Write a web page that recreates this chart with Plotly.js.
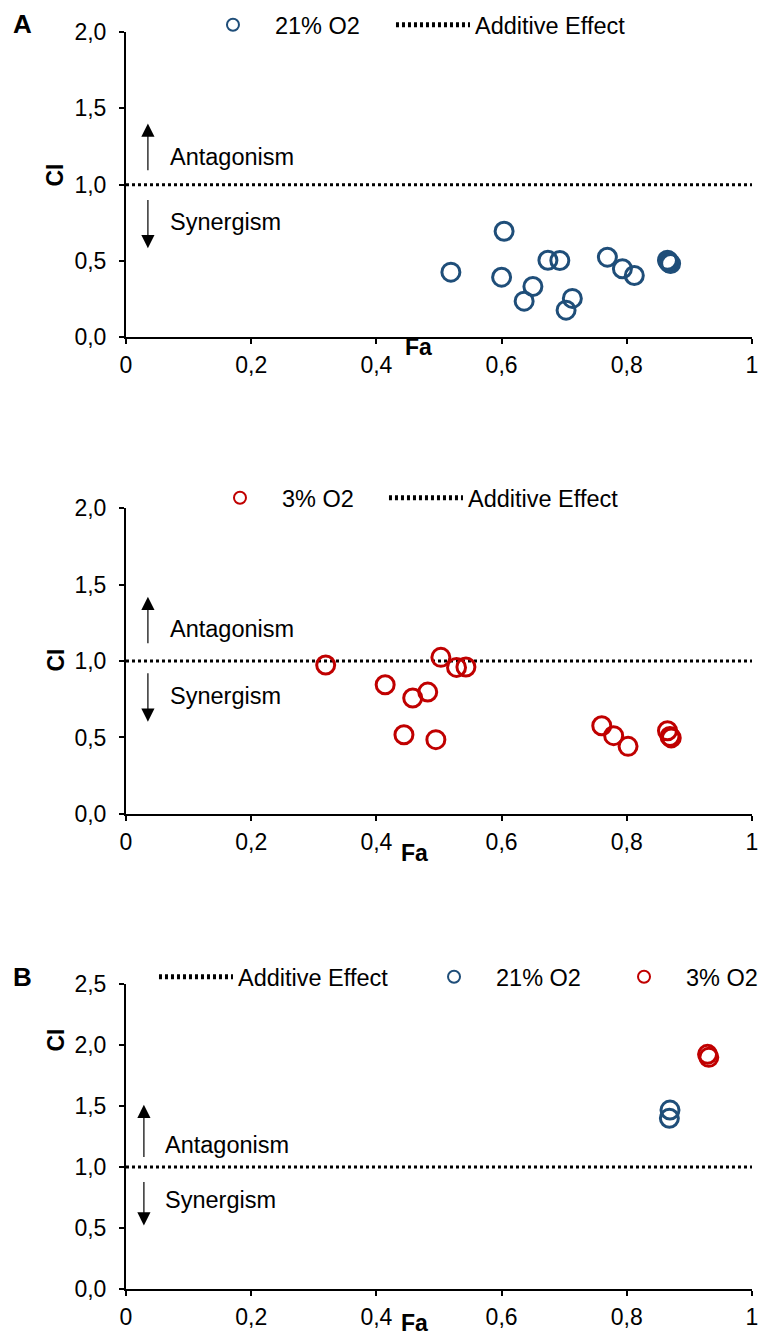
<!DOCTYPE html>
<html>
<head>
<meta charset="utf-8">
<script src="https://cdn.plot.ly/plotly-3.0.1.min.js"></script>
<style>html,body{margin:0;padding:0;background:#fff;}#chart{width:759px;height:1338px;}</style>
</head>
<body>
<div id="chart"></div>
<script>
// Panel A (top): 21% O2
const faA21 = [0.519, 0.604, 0.600, 0.650, 0.636, 0.674, 0.693, 0.713, 0.703, 0.769, 0.793, 0.812, 0.865, 0.868, 0.866, 0.870];
const ciA21 = [0.427, 0.695, 0.394, 0.333, 0.237, 0.505, 0.503, 0.255, 0.178, 0.525, 0.449, 0.405, 0.505, 0.488, 0.499, 0.483];
// Panel A (middle): 3% O2
const faA3 = [0.319, 0.503, 0.528, 0.543, 0.414, 0.458, 0.482, 0.444, 0.495, 0.760, 0.779, 0.802, 0.865, 0.869, 0.871];
const ciA3 = [0.974, 1.024, 0.958, 0.961, 0.845, 0.758, 0.797, 0.518, 0.486, 0.577, 0.512, 0.442, 0.544, 0.507, 0.497];
// Panel B
const faB21 = [0.869, 0.868];
const ciB21 = [1.467, 1.400];
const faB3 = [0.929, 0.931];
const ciB3 = [1.924, 1.899];
// Additive effect reference line
const addX = [0, 1];
const addY = [1, 1];
const xTicks = [0, 0.2, 0.4, 0.6, 0.8, 1];
const yTicksA = [0, 0.5, 1, 1.5, 2];
const yTicksB = [0, 0.5, 1, 1.5, 2, 2.5];

const BLUE = '#1F4E79';
const RED = '#C00000';
const FONT = 'Liberation Sans, Arial, sans-serif';
const FS = 23.5;
const TFS = 23;

function markerTrace(x, y, color, name, xa, ya, lg) {
  return {x: x, y: y, type: 'scatter', mode: 'markers', name: name,
    xaxis: xa, yaxis: ya, legend: lg, cliponaxis: false,
    marker: {symbol: 'circle-open', size: 18, color: color, line: {color: color, width: 3}}};
}
function lineTrace(xa, ya, lg) {
  return {x: addX, y: addY, type: 'scatter', mode: 'lines', name: 'Additive Effect',
    xaxis: xa, yaxis: ya, legend: lg,
    line: {color: '#000', width: 3, dash: '3px,3px'}};
}

const data = [
  lineTrace('x', 'y', 'legend2'),
  markerTrace(faA21, ciA21, BLUE, '21% O2', 'x', 'y', 'legend'),
  lineTrace('x2', 'y2', 'legend4'),
  markerTrace(faA3, ciA3, RED, '3% O2', 'x2', 'y2', 'legend3'),
  lineTrace('x3', 'y3', 'legend5'),
  markerTrace(faB21, ciB21, BLUE, '21% O2', 'x3', 'y3', 'legend6'),
  markerTrace(faB3, ciB3, RED, '3% O2', 'x3', 'y3', 'legend7')
];

function xAxis(anchor) {
  return {range: [0, 1], domain: [0, 1], anchor: anchor, tickvals: xTicks,
    ticks: 'outside', ticklen: 5, tickwidth: 2, tickcolor: '#000',
    showline: true, linewidth: 2, linecolor: '#000', showgrid: false, zeroline: false,
    ticklabeloverflow: 'allow', automargin: false,
    tickfont: {family: FONT, size: TFS, color: '#000'}, ticklabelstandoff: 1};
}
function yAxis(anchor, dom, top, ticks) {
  return {range: [0, top], domain: dom, anchor: anchor, tickvals: ticks, tickformat: '.1f',
    ticks: 'outside', ticklen: 5, tickwidth: 2, tickcolor: '#000',
    showline: true, linewidth: 2, linecolor: '#000', showgrid: false, zeroline: false,
    automargin: false,
    tickfont: {family: FONT, size: TFS, color: '#000'}, ticklabelstandoff: 8};
}
function legendObj(x, y) {
  return {orientation: 'h', x: x, y: y, xanchor: 'left', yanchor: 'middle',
    xref: 'paper', yref: 'paper', traceorder: 'normal', itemsizing: 'constant',
    itemwidth: 74, bgcolor: 'rgba(0,0,0,0)', borderwidth: 0,
    font: {family: FONT, size: FS, color: '#000'}};
}

const ann = [];
function txt(t, x, y, xr, yr, opts) {
  ann.push(Object.assign({text: t, x: x, y: y, xref: xr, yref: yr, showarrow: false,
    font: {family: FONT, size: FS, color: '#000'}}, opts || {}));
}
function arrow(x, yHead, yTail, xr, yr) {
  ann.push({text: '', x: x, y: yHead, ax: x, ay: yTail, xref: xr, yref: yr, axref: xr, ayref: yr,
    showarrow: true, arrowhead: 2, arrowsize: 2.2, arrowwidth: 1.2, arrowcolor: '#000'});
}
// Panel labels
const lbl = {family: FONT, size: 26, color: '#000'};
txt('<b>A</b>', -0.1661, 1.0064, 'paper', 'paper', {xanchor: 'center', yanchor: 'middle', font: lbl});
txt('<b>B</b>', -0.1661, 0.2482, 'paper', 'paper', {xanchor: 'center', yanchor: 'middle', font: lbl});
// Axis titles
const ttl = {family: FONT, size: 23, color: '#000'};
txt('<b>CI</b>', -0.1126, 0.8862, 'paper', 'paper', {textangle: -90, xanchor: 'center', yanchor: 'middle', font: ttl});
txt('<b>CI</b>', -0.1126, 0.5004, 'paper', 'paper', {textangle: -90, xanchor: 'center', yanchor: 'middle', font: ttl});
txt('<b>CI</b>', -0.1126, 0.1981, 'paper', 'paper', {textangle: -90, xanchor: 'center', yanchor: 'middle', font: ttl});
txt('<b>Fa</b>', 0.4665, 0.7494, 'paper', 'paper', {xanchor: 'center', yanchor: 'middle', font: ttl});
txt('<b>Fa</b>', 0.4601, 0.3469, 'paper', 'paper', {xanchor: 'center', yanchor: 'middle', font: ttl});
txt('<b>Fa</b>', 0.4601, -0.0270, 'paper', 'paper', {xanchor: 'center', yanchor: 'middle', font: ttl});
// Antagonism / Synergism
txt('Antagonism', 0.0668, 1.18, 'x', 'y', {xanchor: 'left'});
txt('Synergism', 0.0668, 0.757, 'x', 'y', {xanchor: 'left'});
arrow(0.035, 1.40, 1.084, 'x', 'y');
arrow(0.035, 0.583, 0.91, 'x', 'y');
txt('Antagonism', 0.0668, 1.21, 'x2', 'y2', {xanchor: 'left'});
txt('Synergism', 0.0668, 0.77, 'x2', 'y2', {xanchor: 'left'});
arrow(0.035, 1.42, 1.107, 'x2', 'y2');
arrow(0.035, 0.603, 0.93, 'x2', 'y2');
txt('Antagonism', 0.059, 1.18, 'x3', 'y3', {xanchor: 'left'});
txt('Synergism', 0.059, 0.73, 'x3', 'y3', {xanchor: 'left'});
arrow(0.0286, 1.51, 1.07, 'x3', 'y3');
arrow(0.0286, 0.52, 0.89, 'x3', 'y3');

const layout = {
  width: 759, height: 1338,
  margin: {l: 126, r: 7, t: 32, b: 49, autoexpand: false},
  paper_bgcolor: '#fff', plot_bgcolor: '#fff',
  separators: ',.',
  font: {family: FONT, size: FS, color: '#000'},
  xaxis: xAxis('y'), yaxis: yAxis('x', [0.7571, 1], 2, yTicksA),
  xaxis2: xAxis('y2'), yaxis2: yAxis('x2', [0.3779, 0.6213], 2, yTicksA),
  xaxis3: xAxis('y3'), yaxis3: yAxis('x3', [0, 0.2426], 2.5, yTicksB),
  legend: legendObj(0.1038, 1.0056),
  legend2: legendObj(0.4233, 1.0056),
  legend3: legendObj(0.1150, 0.6293),
  legend4: legendObj(0.4121, 0.6293),
  legend5: legendObj(0.0447, 0.2482),
  legend6: legendObj(0.4569, 0.2482),
  legend7: legendObj(0.7604, 0.2482),
  annotations: ann,
  showlegend: true
};
Plotly.newPlot('chart', data, layout, {displayModeBar: false, staticPlot: true});
</script>
</body>
</html>
